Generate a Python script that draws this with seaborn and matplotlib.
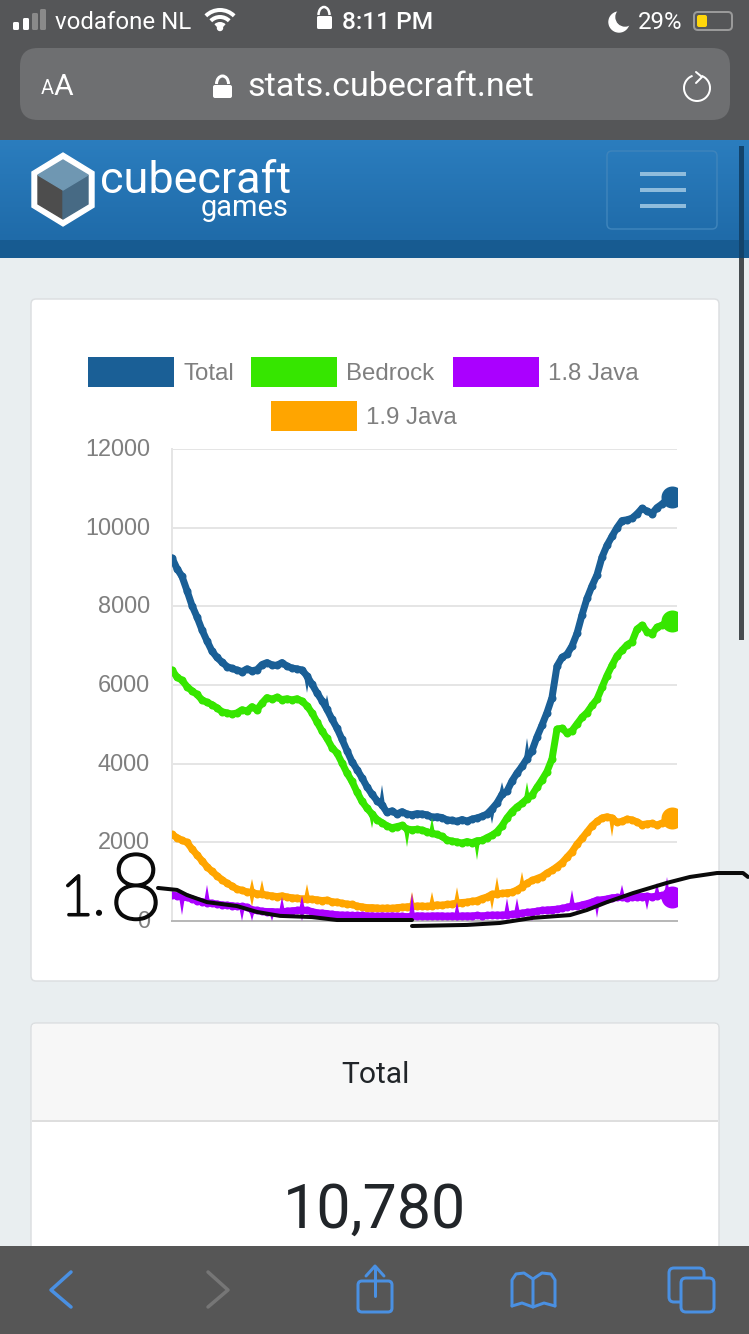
import numpy as np
import pandas as pd
import matplotlib
matplotlib.use("Agg")
import matplotlib.pyplot as plt
from matplotlib.patches import Rectangle, FancyBboxPatch, Polygon, Circle, Arc, Wedge
from matplotlib.transforms import ScaledTranslation
import matplotlib.patheffects as pe
import seaborn as sns

sns.set_theme(style="white")
plt.rcParams['font.family'] = ['Liberation Sans', 'DejaVu Sans']

series_names = ["Total", "Bedrock", "1.8 Java", "1.9 Java"]
series_colors = ["#1a5f96", "#36e600", "#aa00ff", "#ffa500"]
y_ticks = [0, 2000, 4000, 6000, 8000, 10000, 12000]

total = [9230,8960,8760,8400,8020,7730,7400,7120,6860,6700,6580,6470,6420,6380,6340,6410,6360,6390,6520,6570,
         6510,6500,6570,6480,6430,6410,6380,6230,6020,5800,5600,5380,5130,4900,4620,4330,4050,3850,3640,3410,
         3220,3060,2950,2760,2800,2720,2780,2720,2700,2730,2720,2700,2640,2650,2630,2570,2560,2530,2580,2540,
         2590,2620,2660,2720,2850,3000,3220,3300,3560,3760,3930,4130,4330,4680,4980,5300,5680,6480,6700,6780,
         6990,7310,7780,8200,8520,8800,9250,9550,9780,10000,10180,10200,10240,10350,10490,10420,10360,10510,10600,10720,
         10780,10780]
bedrock = [6380,6200,6120,5960,5850,5760,5620,5560,5500,5420,5320,5290,5260,5290,5370,5340,5450,5370,5540,5680,
           5640,5690,5630,5650,5620,5650,5590,5470,5290,5060,4830,4640,4410,4270,4020,3760,3550,3280,3040,2870,
           2720,2580,2500,2420,2370,2400,2430,2340,2320,2330,2310,2270,2230,2200,2150,2060,2030,2010,1980,2020,
           1990,2040,2050,2120,2180,2270,2420,2620,2780,2900,2990,3110,3200,3400,3590,3800,4120,4880,4900,4780,
           4840,5010,5180,5300,5480,5640,5940,6240,6500,6740,6880,7020,7100,7420,7520,7360,7300,7470,7520,7600,
           7620,7620]
java18 = [660,640,620,600,560,520,490,470,450,430,410,400,390,370,370,350,290,270,250,240,
          240,230,230,250,260,270,280,270,240,210,200,190,170,160,150,150,140,140,140,130,
          130,120,130,120,130,120,120,110,120,130,130,120,130,130,130,120,130,120,130,130,
          130,140,130,140,150,150,150,160,170,190,200,220,230,250,270,280,290,300,320,350,
          380,370,410,440,480,530,540,560,590,600,600,590,610,620,620,630,610,640,650,640,
          620,610]
java19 = [2200,2120,2050,2000,1830,1680,1530,1380,1260,1150,1050,960,890,810,780,740,730,690,690,650,
          640,620,640,610,590,580,560,570,550,540,520,530,490,480,450,430,420,380,360,340,
          340,330,320,330,320,340,350,360,370,380,380,370,390,410,400,420,430,460,470,480,
          500,520,570,610,680,690,700,720,730,790,870,960,1030,1080,1130,1220,1290,1380,1480,1620,
          1760,1950,2100,2260,2420,2530,2620,2650,2620,2510,2530,2590,2570,2520,2450,2470,2480,2440,2490,2530,
          2620,2620]

# spikes: sample index, tip value
total_spikes = [(27,5800),(31,5750),(42,3460),(64,2470),(66,3530),(71,4650)]
bedrock_spikes = [(40,2360),(47,1880),(52,2620),(61,1550),(71,3530)]
java19_spikes = [(6,1650),(16,1070),(16,360),(18,1040),(27,940),(48,740),(52,740),(57,860),(64,280),(65,1120),(70,1250),(88,2140)]
java18_spikes = [(2,150),(7,920),(14,0),(16,0),(20,0),(22,610),(26,0),(26,640),(48,710),(57,480),(57,0),
                 (67,580),(69,580),(72,0),(80,790),(85,80),(90,920),(95,280),(97,970),(99,1120)]

# hand-drawn black stroke over the chart (sample position, value)
scribble_a_x = [-2.8,1,3,7,13,17,21.6,28,33,46,48]
scribble_a_y = [840,790,660,480,380,230,130,100,25,25,25]
scribble_b_x = [48,59,65.6,72.2,79.6,83,87,92.2,99,103.6,109,114.2,115.2]
scribble_b_y = [-127,-100,-50,80,150,280,480,710,970,1120,1220,1220,1120]

W, H = 749, 1334
fig = plt.figure(figsize=(W/100, H/100), dpi=100, facecolor="#e9eef0")
fs = lambda px: px*0.72
LW = lambda px: px*0.72

# ---------- page chrome in pixel coordinates ----------
ui = fig.add_axes([0,0,1,1], zorder=0)
ui.set_xlim(0,W); ui.set_ylim(H,0); ui.axis("off")

def rect(x0,y0,x1,y1,c,ec="none",lw=0,z=1):
    ui.add_patch(Rectangle((x0,y0),x1-x0,y1-y0,fc=c,ec=ec,lw=lw,zorder=z))
def rrect(x0,y0,x1,y1,r,c,ec="none",lw=0,z=1):
    ui.add_patch(FancyBboxPatch((x0+r,y0+r),x1-x0-2*r,y1-y0-2*r,boxstyle=f"round,pad={r},rounding_size={r}",
                                fc=c,ec=ec,lw=lw,zorder=z))
def line(xs,ys,c,w,z=3,cap="round"):
    ui.plot(xs,ys,color=c,lw=LW(w),solid_capstyle=cap,solid_joinstyle="round",zorder=z)
def txt(x,y,s,px,c,ha="left",fam="Roboto",**k):
    ui.text(x,y+px*0.07,s,fontsize=fs(px),color=c,ha=ha,va="center",family=fam,zorder=5,**k)

rect(0,0,W,140,"#555658")
rrect(20,48,730,120,18,"#6e6f71",z=2)
ui.imshow(np.linspace(0,1,100)[:,None],extent=(0,W,240,140),aspect="auto",zorder=1,
          cmap=matplotlib.colors.LinearSegmentedColormap.from_list("h",["#2b7dbe","#1f6ba9"]))
ui.set_xlim(0,W); ui.set_ylim(H,0)
rect(0,240,W,258,"#175b91")
rect(739,146,744,258,"#12436b",z=2)
rect(739,258,744,640,"#464c50",z=2)

# status bar
for x,h,c in [(14,8,"white"),(24,12,"white"),(33,17,"#8a8a8a"),(41,21,"#8a8a8a")]:
    rrect(x-1,30-h,x+5,30,1.5,c,z=3)
txt(55,21,"vodafone NL",24,"white")
for r in (20,13,6):
    ui.add_patch(Arc((220,30),2*r,2*r,theta1=225,theta2=315,color="white",lw=LW(4),zorder=3))
ui.add_patch(Circle((220,28),2.5,color="white",zorder=3))
rrect(317,16,332,29,1.5,"white",z=3)
ui.add_patch(Arc((324,15),11,16,theta1=180,theta2=360,color="white",lw=LW(2.5),zorder=3))
txt(342,21,"8:11 PM",24.5,"white",fontweight="medium")
ui.add_patch(Wedge((619,22),10,0,360,color="white",zorder=3))
ui.add_patch(Circle((625,17),9,color="#555658",zorder=3))
txt(638,21,"29%",24,"white")
rrect(694,12,732,30,4,"none",ec="#9a9a9a",lw=LW(2),z=3)
rrect(697,15,707,27,2,"#ffd60a",z=4)

# url bar
txt(41,87,"A",20,"white")
txt(54,85,"A",30,"white")
rrect(213,85,232,98,2,"white",z=3)
ui.add_patch(Arc((222.5,84),12,16,theta1=180,theta2=360,color="white",lw=LW(3),zorder=3))
txt(247,85,"stats.cubecraft.net",34,"white")
ui.add_patch(Arc((697,88),26,26,theta1=-70,theta2=250,color="white",lw=LW(2),zorder=3))
line([696,702,696],[72,77,83],"white",2)

# logo
ui.add_patch(Polygon([(63,153),(94,172),(94,207),(63,226),(32,207),(32,172)],fc="white",zorder=3))
ui.add_patch(Polygon([(38,175),(63,190),(63,219),(38,204)],fc="#4d4d4d",ec="#4d4d4d",lw=1,zorder=4))
ui.add_patch(Polygon([(88,175),(63,190),(63,219),(88,204)],fc="#476a84",ec="#476a84",lw=1,zorder=4))
ui.add_patch(Polygon([(63,160),(88,175),(63,190),(38,175)],fc="#6f97b2",ec="#6f97b2",lw=1,zorder=4))
txt(100,178,"cubecraft",45,"white")
txt(289,206,"games",29,"white",ha="right")
rrect(607,151,717,229,5,"none",ec="#3e84bb",lw=LW(1.5),z=3)
for y in (174,190,206):
    line([640,686],[y,y],"#8fbcdc",4,cap="butt")

# cards
rrect(31,299,719,981,5,"white",ec="#dcdfe1",lw=LW(1.5),z=2)
rrect(31,1023,719,1270,5,"white",ec="#dcdfe1",lw=LW(1.5),z=2)
rrect(32,1024,718,1120,4,"#f7f7f7",z=3)
rect(32,1115,718,1120,"#f7f7f7",z=3)
rect(32,1120,718,1122,"#dedede",z=3)
txt(375,1073,"Total",30,"#212529",ha="center")
txt(374,1206,"10,780",61,"#212529",ha="center")

# bottom bar
rect(0,1246,W,H,"#565656",z=6)
blue = "#4a90e2"
line([71,51,71],[1272,1290,1307],blue,3.5,z=7)
line([208,228,208],[1272,1290,1307],"#767676",3.5,z=7)
line([366,375,384],[1276,1266,1276],blue,3,z=7)
ui.add_patch(FancyBboxPatch((358,1281),34,31,boxstyle="round,pad=0,rounding_size=4",fc="#565656",ec=blue,lw=LW(3),zorder=7))
line([375,375],[1267,1296],blue,3,z=8)
line([512,512,516,524,533,533],[1306,1280,1274,1273,1279,1307],blue,3,z=7)
line([555,555,551,542,533],[1306,1280,1274,1273,1279],blue,3,z=7)
line([512,522,533,544,555],[1306,1303,1307,1303,1306],blue,3,z=7)
ui.add_patch(FancyBboxPatch((669,1268),35,34,boxstyle="round,pad=0,rounding_size=5",fc="#565656",ec=blue,lw=LW(3),zorder=7))
ui.add_patch(FancyBboxPatch((681,1278),33,34,boxstyle="round,pad=0,rounding_size=5",fc="#565656",ec=blue,lw=LW(3),zorder=7))

# legend
leg = [(88,357,174,183,372),(251,357,337,346,372),(453,357,539,548,372),(271,401,357,366,416)]
for (x0,y0,x1,tx,ty),n,c in zip(leg,series_names,series_colors):
    rect(x0,y0,x1,y0+30,c,z=3)
    txt(tx,ty,n,24,"#7f7f7f",fam="Liberation Sans")

# ---------- the chart ----------
ax = fig.add_axes([172/W,1-921/H,(677-172)/W,(921-449)/H],zorder=2)
ax.patch.set_alpha(0)
values = [total,bedrock,java18,java19]
n = len(total)
df = pd.DataFrame({"x":np.tile(np.arange(n),4),"y":np.concatenate(values),
                   "s":np.repeat(series_names,n)})
draw_order = ["Total","Bedrock","1.9 Java","1.8 Java"]
pal = dict(zip(series_names,series_colors))
spikes = dict(zip(series_names,[total_spikes,bedrock_spikes,java18_spikes,java19_spikes]))
vals = dict(zip(series_names,values))
for k,name in enumerate(draw_order):
    z = 3+k
    sns.lineplot(data=df[df.s==name],x="x",y="y",color=pal[name],lw=LW(7),marker="o",ms=LW(8),mew=0,
                 estimator=None,sort=False,legend=False,ax=ax,zorder=z,solid_joinstyle="round")
    for i,tip in spikes[name]:
        v = vals[name][i]
        ax.fill([i-0.6,i+0.6,i],[v,v,tip],color=pal[name],lw=0,zorder=z,clip_on=False)
    ax.plot([100],[vals[name][100]],"o",color=pal[name],ms=LW(22),mew=0,zorder=z)

ax.set_xlim(0,n-1); ax.set_ylim(0,12000)
ax.set_xticks([]); ax.set_yticks(y_ticks)
ax.set_xlabel(""); ax.set_ylabel("")
ax.set_yticklabels([str(t) for t in y_ticks])
ax.tick_params(axis="y",length=LW(20),width=LW(2),color="#e5e5e5",pad=1.5,labelsize=fs(23.5),labelcolor="#7f7f7f")
shift = ScaledTranslation(0,2/72*0.72,fig.dpi_scale_trans)
for lab in ax.get_yticklabels():
    lab.set_transform(lab.get_transform()+shift)
ax.grid(axis="y",color="#e5e5e5",lw=LW(2),zorder=0)
ax.grid(axis="x",visible=False)
ax.set_axisbelow(True)
for sp in ("top","right"):
    ax.spines[sp].set_visible(False)
ax.spines["left"].set_color("#e5e5e5"); ax.spines["left"].set_linewidth(LW(2))
ax.spines["bottom"].set_color("#b8b8b8"); ax.spines["bottom"].set_linewidth(LW(2))

# handwritten annotation
for xs,ys in [(scribble_a_x,scribble_a_y),(scribble_b_x,scribble_b_y)]:
    ax.plot(xs,ys,color="#0a0a0a",lw=LW(4),clip_on=False,zorder=20,solid_capstyle="round",solid_joinstyle="round")
ov = fig.add_axes([0,0,1,1],zorder=3); ov.set_xlim(0,W); ov.set_ylim(H,0); ov.axis("off"); ov.patch.set_alpha(0)
stroke = [pe.withStroke(linewidth=LW(3),foreground="#0a0a0a")]
hw = dict(color="#0a0a0a",zorder=20,ha="center",family="Lato",fontweight="light",path_effects=stroke)
ov.text(77,915,"1",fontsize=fs(56),va="baseline",**hw)
ov.text(99,914,".",fontsize=fs(48),va="baseline",**hw)
ov.text(136,919,"8",fontsize=fs(92),va="baseline",**hw)

fig.savefig("out.png",dpi=100,facecolor=fig.get_facecolor())
